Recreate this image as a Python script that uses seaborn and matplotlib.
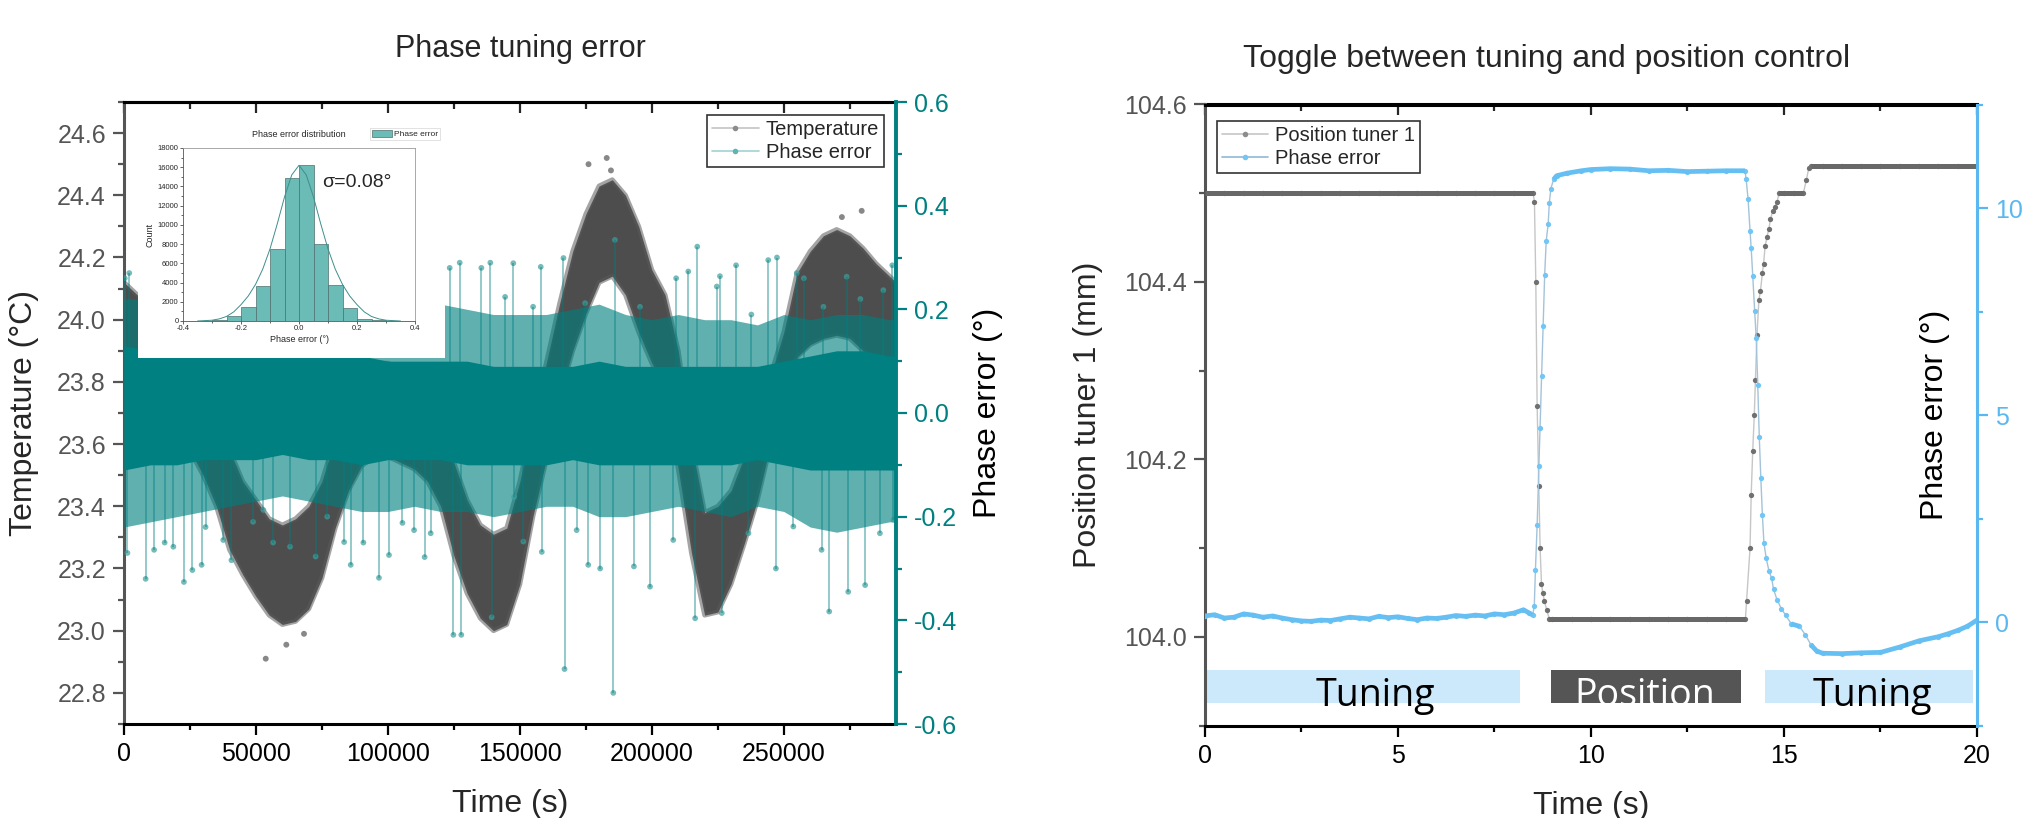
import numpy as np
import pandas as pd
import matplotlib
matplotlib.use("Agg")
import matplotlib.pyplot as plt
from matplotlib.lines import Line2D
from matplotlib.patches import Rectangle, Patch
from matplotlib.ticker import MultipleLocator, FormatStrFormatter
import seaborn as sns

# ---------------------------------------------------------------------------
# Left panel: long run, temperature band and phase error band (time in ks)
# ---------------------------------------------------------------------------
band_t_ks = [0, 5, 10, 15, 20, 25, 30, 35, 40, 45, 50, 55, 60, 65, 70, 75, 80,
             85, 90, 95, 100, 105, 110, 115, 120, 125, 130, 135, 140, 145, 150,
             155, 160, 165, 170, 175, 180, 185, 190, 195, 200, 205, 210, 215,
             220, 225, 230, 235, 240, 245, 250, 255, 260, 265, 270, 275, 280,
             285, 290, 292.5]
temp_lo = [23.85, 23.80, 23.76, 23.70, 23.64, 23.58, 23.50, 23.40, 23.26, 23.18,
           23.11, 23.05, 23.02, 23.03, 23.07, 23.17, 23.33, 23.45, 23.53, 23.56,
           23.56, 23.54, 23.52, 23.48, 23.40, 23.24, 23.12, 23.04, 23.00, 23.02,
           23.15, 23.37, 23.55, 23.75, 23.90, 24.02, 24.12, 24.14, 24.08, 23.96,
           23.86, 23.78, 23.52, 23.25, 23.05, 23.06, 23.15, 23.28, 23.42, 23.60,
           23.75, 23.88, 23.92, 23.94, 23.95, 23.94, 23.90, 23.87, 23.85, 23.85]
temp_hi = [24.12, 24.08, 24.04, 23.98, 23.92, 23.86, 23.80, 23.70, 23.58, 23.48,
           23.42, 23.36, 23.34, 23.36, 23.40, 23.48, 23.62, 23.74, 23.82, 23.86,
           23.86, 23.84, 23.80, 23.76, 23.68, 23.54, 23.42, 23.34, 23.31, 23.33,
           23.48, 23.68, 23.86, 24.05, 24.22, 24.34, 24.43, 24.45, 24.40, 24.30,
           24.16, 24.08, 23.90, 23.60, 23.38, 23.40, 23.45, 23.56, 23.66, 23.82,
           23.96, 24.15, 24.22, 24.27, 24.29, 24.27, 24.23, 24.18, 24.14, 24.12]

temp_out_t_ks = [53.7, 61.5, 68.2, 176.0, 182.9, 184.5, 272.0, 279.5]
temp_out_val = [22.91, 22.955, 22.99, 24.50, 24.52, 24.48, 24.33, 24.35]

pe_t_ks = [0, 10, 20, 30, 40, 50, 60, 70, 80, 90, 100, 110, 120, 130, 140, 150,
           160, 170, 180, 190, 200, 210, 220, 230, 240, 250, 260, 270, 280, 290,
           292.5]
pe_core_lo = [-0.11, -0.10, -0.10, -0.09, -0.09, -0.09, -0.08, -0.09, -0.09, -0.10,
              -0.09, -0.09, -0.09, -0.10, -0.10, -0.10, -0.10, -0.09, -0.10, -0.10,
              -0.10, -0.10, -0.10, -0.10, -0.09, -0.10, -0.11, -0.11, -0.11, -0.11,
              -0.11]
pe_core_hi = [0.13, 0.12, 0.12, 0.12, 0.11, 0.11, 0.11, 0.12, 0.11, 0.11,
              0.10, 0.10, 0.10, 0.10, 0.09, 0.09, 0.09, 0.09, 0.10, 0.09,
              0.09, 0.09, 0.09, 0.09, 0.09, 0.10, 0.11, 0.12, 0.12, 0.11,
              0.11]
pe_fuzz_lo = [-0.22, -0.21, -0.20, -0.19, -0.18, -0.17, -0.16, -0.17, -0.18, -0.19,
              -0.19, -0.18, -0.19, -0.19, -0.20, -0.19, -0.18, -0.18, -0.20, -0.20,
              -0.19, -0.18, -0.19, -0.20, -0.18, -0.19, -0.22, -0.23, -0.22, -0.21,
              -0.21]
pe_fuzz_hi = [0.22, 0.22, 0.21, 0.21, 0.20, 0.20, 0.20, 0.20, 0.19, 0.19,
              0.19, 0.20, 0.21, 0.20, 0.19, 0.19, 0.19, 0.20, 0.21, 0.19,
              0.18, 0.19, 0.18, 0.18, 0.17, 0.19, 0.18, 0.19, 0.19, 0.18,
              0.18]

spike_t_ks = [0.3, 1.3, 2.0, 8.2, 11.4, 15.4, 18.7, 22.7, 25.9, 29.4, 30.9, 37.6,
              40.7, 48.9, 52.8, 56.5, 62.9, 72.6, 77.0, 83.4, 85.9, 90.7, 96.6,
              100.4, 105.5, 109.9, 113.9, 116.2, 123.4, 124.8, 127.2, 127.8, 135.4,
              138.8, 139.3, 144.4, 147.5, 147.8, 151.3, 155.0, 157.9, 158.3, 166.5,
              166.9, 171.5, 174.7, 175.9, 180.4, 185.4, 186.0, 193.2, 195.5, 199.3,
              208.1, 209.2, 213.8, 216.4, 217.2, 224.6, 225.8, 226.5, 231.9, 236.6,
              237.7, 244.1, 247.0, 247.4, 253.6, 254.9, 257.6, 264.3, 265.0, 267.2,
              273.8, 274.4, 279.0, 280.8, 286.4, 287.7, 291.1, 291.5]
spike_val = [0.26, -0.27, 0.27, -0.32, -0.264, -0.25, -0.258, -0.326, -0.303,
             -0.293, -0.22, -0.245, -0.284, -0.21, -0.187, -0.25, -0.258, -0.277,
             -0.20, -0.249, -0.293, -0.25, -0.318, -0.274, -0.212, -0.226, -0.278,
             -0.232, 0.28, -0.428, 0.29, -0.428, 0.28, 0.29, -0.394, 0.224, 0.289,
             -0.162, -0.248, 0.205, 0.282, -0.268, 0.299, -0.494, -0.226, 0.212,
             -0.293, -0.30, -0.54, 0.334, -0.296, 0.205, -0.335, -0.245, 0.26,
             0.273, -0.396, 0.321, 0.244, 0.264, -0.386, 0.285, -0.232, 0.19,
             0.295, -0.30, 0.30, -0.219, 0.27, 0.26, -0.264, 0.205, -0.383, 0.263,
             -0.345, 0.22, -0.332, -0.232, 0.237, 0.285, -0.206]

# inset histogram of the phase error
hist_edges = [-0.30, -0.25, -0.20, -0.15, -0.10, -0.05, 0.00, 0.05, 0.10, 0.15,
              0.20, 0.25, 0.30]
hist_counts = [140, 520, 1420, 3670, 7540, 14910, 16230, 7960, 3700, 1350, 240, 100]
fit_x = [-0.35, -0.30, -0.275, -0.25, -0.225, -0.20, -0.175, -0.15, -0.125, -0.10,
         -0.075, -0.05, -0.025, 0.0, 0.025, 0.05, 0.075, 0.10, 0.125, 0.15, 0.175,
         0.20, 0.225, 0.25, 0.275, 0.30, 0.35]
fit_y = [0, 80, 220, 470, 950, 1700, 2600, 3800, 5400, 7500, 10100, 12900, 15200,
         16200, 15200, 12900, 10100, 7500, 5400, 3800, 2600, 1700, 950, 470, 220,
         80, 0]

# ---------------------------------------------------------------------------
# Right panel: toggle between tuning and position control (time in s)
# ---------------------------------------------------------------------------
pos_t = [0.0, 0.5, 1.0, 1.5, 2.0, 2.5, 3.0, 3.5, 4.0, 4.5, 5.0, 5.5, 6.0, 6.5,
         7.0, 7.5, 8.0, 8.5,
         8.535, 8.57, 8.605, 8.648, 8.682, 8.717, 8.75, 8.79, 8.855, 8.923,
         9.0, 9.5, 10.0, 10.5, 11.0, 11.5, 12.0, 12.5, 13.0, 13.5, 14.0,
         14.03, 14.12, 14.15, 14.19, 14.23, 14.26, 14.30, 14.35, 14.39, 14.44,
         14.47, 14.51, 14.56, 14.61, 14.65, 14.71, 14.76, 14.82, 14.87,
         15.0, 15.25, 15.5, 15.58, 15.64,
         15.7, 16.0, 16.5, 17.0, 17.5, 18.0, 18.5, 19.0, 19.5, 20.0]
pos_mm = [104.5, 104.5, 104.5, 104.5, 104.5, 104.5, 104.5, 104.5, 104.5, 104.5,
          104.5, 104.5, 104.5, 104.5, 104.5, 104.5, 104.5, 104.5,
          104.49, 104.40, 104.26, 104.17, 104.10, 104.06, 104.05, 104.041,
          104.03, 104.02,
          104.02, 104.02, 104.02, 104.02, 104.02, 104.02, 104.02, 104.02,
          104.02, 104.02, 104.02,
          104.04, 104.10, 104.16, 104.21, 104.25, 104.29, 104.34, 104.38, 104.39,
          104.41, 104.42, 104.44, 104.451, 104.46, 104.471, 104.48, 104.485,
          104.49, 104.50,
          104.5, 104.5, 104.5, 104.515, 104.528,
          104.531, 104.531, 104.531, 104.531, 104.531, 104.531, 104.531, 104.531,
          104.531, 104.531]

phase_t = [0.0, 0.25, 0.5, 0.75, 1.0, 1.25, 1.5, 1.75, 2.0, 2.25, 2.5, 2.75, 3.0,
           3.25, 3.5, 3.75, 4.0, 4.25, 4.5, 4.75, 5.0, 5.25, 5.5, 5.75, 6.0, 6.25,
           6.5, 6.75, 7.0, 7.25, 7.5, 7.75, 8.0, 8.25, 8.4, 8.49,
           8.53, 8.56, 8.605, 8.65, 8.68, 8.72, 8.76, 8.80, 8.84, 8.89, 8.92, 8.96,
           9.03, 9.11, 9.37, 9.75, 10.0, 10.5, 11.0, 11.5, 12.0, 12.5, 13.0, 13.5,
           13.99,
           14.02, 14.07, 14.12, 14.15, 14.19, 14.24, 14.28, 14.32, 14.36, 14.40,
           14.44, 14.48, 14.54, 14.61, 14.68, 14.73, 14.82, 14.93, 15.04, 15.19,
           15.40, 15.55, 15.7, 15.85, 16.0, 16.5, 17.0, 17.5, 18.0, 18.5, 19.0,
           19.25, 19.5, 19.75, 20.0]
phase_deg = [0.15, 0.18, 0.10, 0.12, 0.20, 0.17, 0.12, 0.15, 0.10, 0.06, 0.03,
             0.02, 0.05, 0.04, 0.08, 0.12, 0.10, 0.08, 0.14, 0.11, 0.13, 0.09,
             0.06, 0.10, 0.09, 0.12, 0.16, 0.14, 0.17, 0.15, 0.20, 0.18, 0.22,
             0.30, 0.22, 0.17,
             0.38, 1.25, 2.35, 3.78, 4.69, 5.94, 7.16, 8.39, 9.21, 9.61, 10.12,
             10.47, 10.69, 10.78, 10.84, 10.90, 10.93, 10.95, 10.94, 10.90, 10.91,
             10.88, 10.89, 10.90, 10.90,
             10.69, 10.21, 9.45, 9.03, 8.37, 7.52, 6.87, 5.73, 4.46, 3.47, 2.59,
             1.91, 1.54, 1.24, 1.06, 0.79, 0.54, 0.33, 0.17, -0.04, -0.10, -0.30,
             -0.55, -0.70, -0.75, -0.76, -0.74, -0.73, -0.60, -0.45, -0.35, -0.28,
             -0.20, -0.10, 0.05]

mode_names = ["Tuning", "Position", "Tuning"]
mode_start = [0.0, 8.97, 14.52]
mode_end = [8.17, 13.88, 19.9]
mode_text_x = [4.42, 11.4, 17.3]

# ---------------------------------------------------------------------------
# Style
# ---------------------------------------------------------------------------
sns.set_theme(style="ticks")
plt.rcParams["font.family"] = ["Liberation Sans", "DejaVu Sans"]
plt.rcParams["axes.unicode_minus"] = False

TEAL = "#008080"
TEMP_GRAY = "#474747"
AX_GRAY = "#555555"
LBLUE = "#5ab8f0"

W, H = 2024, 818
fig = plt.figure(figsize=(W / 100, H / 100), dpi=100)


def fx(px):
    return px / W


def fy(py):
    return 1 - py / H


def style_ticks(a, axis, major_len=8, minor_len=4.5):
    a.tick_params(axis=axis, which="major", direction="out", length=major_len,
                  width=1.6, labelsize=18, pad=5)
    a.tick_params(axis=axis, which="minor", direction="out", length=minor_len,
                  width=1.6)


def top_ticks(a, major, minor):
    sec = a.secondary_xaxis("top")
    sec.xaxis.set_major_locator(MultipleLocator(major))
    sec.xaxis.set_minor_locator(MultipleLocator(minor))
    sec.tick_params(which="major", direction="in", length=8, width=1.6,
                    labeltop=False)
    sec.tick_params(which="minor", direction="in", length=5, width=1.6)
    sec.spines["top"].set_linewidth(2.2)
    sec.spines["top"].set_color("black")
    return sec


# ---------------------------------------------------------------------------
# Left panel
# ---------------------------------------------------------------------------
ax = fig.add_axes([fx(124), fy(724), fx(896 - 124), (724 - 102) / H])
ax2 = ax.twinx()

band_t = np.array(band_t_ks) * 1000
ax.fill_between(band_t, temp_lo, temp_hi, color=TEMP_GRAY, lw=0, alpha=0.97)
ax.plot(band_t, temp_lo, color="#5a5a5a", lw=3.5, alpha=0.55)
ax.plot(band_t, temp_hi, color="#5a5a5a", lw=3.5, alpha=0.55)
sns.scatterplot(x=np.array(temp_out_t_ks) * 1000, y=temp_out_val, ax=ax,
                color="#6a6a6a", s=18, edgecolor="none", alpha=0.8, legend=False)

pe_t = np.array(pe_t_ks) * 1000
ax2.fill_between(pe_t, pe_fuzz_lo, pe_fuzz_hi, color=TEAL, lw=0, alpha=0.62)
ax2.fill_between(pe_t, pe_core_lo, pe_core_hi, color=TEAL, lw=0, alpha=1.0)
sp_t = np.array(spike_t_ks) * 1000
ax2.vlines(sp_t, 0, spike_val, color=TEAL, lw=1.3, alpha=0.45)
sns.scatterplot(x=sp_t, y=spike_val, ax=ax2, color="#3a9f9c", s=17,
                edgecolor="none", alpha=0.7, legend=False)

ax.set_xlim(0, 292500)
ax.set_ylim(22.7, 24.7)
ax2.set_ylim(-0.6, 0.6)

ax.xaxis.set_major_locator(MultipleLocator(50000))
ax.xaxis.set_minor_locator(MultipleLocator(25000))
ax.xaxis.set_major_formatter(FormatStrFormatter("%d"))
ax.yaxis.set_major_locator(MultipleLocator(0.2))
ax.yaxis.set_minor_locator(MultipleLocator(0.1))
ax.yaxis.set_major_formatter(FormatStrFormatter("%.1f"))
ax2.yaxis.set_major_locator(MultipleLocator(0.2))
ax2.yaxis.set_minor_locator(MultipleLocator(0.1))
ax2.yaxis.set_major_formatter(FormatStrFormatter("%.1f"))

style_ticks(ax, "x")
style_ticks(ax, "y")
style_ticks(ax2, "y")
ax.tick_params(axis="y", which="both", colors=AX_GRAY, labelcolor=AX_GRAY)
ax.tick_params(axis="x", which="both", colors="black", labelcolor="black")
ax2.tick_params(axis="y", which="both", colors=TEAL, labelcolor=TEAL)
top_ticks(ax, 50000, 25000)

for s in ("top", "bottom"):
    ax.spines[s].set_linewidth(2.2)
    ax.spines[s].set_color("black")
ax.spines["left"].set_linewidth(2.2)
ax.spines["left"].set_color(AX_GRAY)
ax.spines["right"].set_visible(False)
ax2.spines["left"].set_visible(False)
ax2.spines["top"].set_visible(False)
ax2.spines["bottom"].set_visible(False)
ax2.spines["right"].set_linewidth(2.8)
ax2.spines["right"].set_color(TEAL)

ax.set_xlabel("Time (s)", fontsize=23)
ax.xaxis.set_label_coords(0.5, -0.104)
ax.set_ylabel("Temperature (°C)", fontsize=23)
ax.yaxis.set_label_coords((39 - 124) / 772, 0.5)
ax2.set_ylabel("Phase error (°)", fontsize=23, color="black")
ax2.yaxis.set_label_coords((973 - 124) / 772, 0.5)

h_left = [
    Line2D([0], [0], color="#c4c4c4", lw=1.2, marker="o", ms=4,
           mfc="#8c8c8c", mec="none"),
    Line2D([0], [0], color="#9ed3d1", lw=1.2, marker="o", ms=4,
           mfc="#5fb3b0", mec="none"),
]
leg = ax2.legend(h_left, ["Temperature", "Phase error"], loc="upper right",
                 bbox_to_anchor=(0.9845, 0.979), fontsize=14.5, frameon=True,
                 fancybox=False, handlelength=2.3, handletextpad=0.35,
                 labelspacing=0.2, borderpad=0.25, borderaxespad=0)
leg.get_frame().set_edgecolor("#333333")
leg.get_frame().set_linewidth(1.2)
leg.get_frame().set_alpha(1)

fig.text(fx(520), fy(57), "Phase tuning error", ha="center", va="baseline",
         fontsize=22)

# white box behind the inset
fig.patches.append(Rectangle((fx(138), fy(358)), fx(445 - 138), (358 - 114) / H,
                             transform=fig.transFigure, facecolor="white",
                             edgecolor="none", zorder=1))

axi = fig.add_axes([fx(183), fy(321), fx(415 - 183), (321 - 148) / H], zorder=2)
edges = np.array(hist_edges)
hist_df = pd.DataFrame({"phase": (edges[:-1] + edges[1:]) / 2,
                        "count": hist_counts})
sns.histplot(data=hist_df, x="phase", weights="count", bins=hist_edges, ax=axi,
             color="#6bbbb7", edgecolor="#4f6f6e", linewidth=0.5, alpha=1)
axi.plot(fit_x, fit_y, color="#3d8f8b", lw=0.7)
axi.set_xlim(-0.4, 0.4)
axi.set_ylim(0, 18000)
axi.xaxis.set_major_locator(MultipleLocator(0.2))
axi.xaxis.set_minor_locator(MultipleLocator(0.1))
axi.yaxis.set_major_locator(MultipleLocator(2000))
axi.yaxis.set_minor_locator(MultipleLocator(1000))
axi.xaxis.set_major_formatter(FormatStrFormatter("%.1f"))
axi.tick_params(which="major", direction="out", length=2.2, width=0.5,
                labelsize=5.5, pad=1)
axi.tick_params(which="minor", direction="out", length=1.2, width=0.5)
for s in axi.spines.values():
    s.set_linewidth(0.6)
    s.set_color("#555555")
axi.spines["top"].set_color("#9a9a9a")
axi.spines["right"].set_color("#9a9a9a")
axi.set_xlabel("Phase error (°)", fontsize=6.5, labelpad=2)
axi.set_ylabel("Count", fontsize=6.5, labelpad=2)
axi.set_title("Phase error distribution", fontsize=6.5, pad=8)
axi.text(0.75, 0.80, "σ=0.08°", transform=axi.transAxes, fontsize=14,
         ha="center", va="center")
ileg = axi.legend([Patch(facecolor="#6bbbb7", edgecolor="#4f6f6e", lw=0.5)],
                  ["Phase error"], loc="upper right",
                  bbox_to_anchor=(1.108, 1.116), fontsize=6, fancybox=False,
                  handlelength=2.4, handleheight=0.9, handletextpad=0.3,
                  borderpad=0.2, borderaxespad=0)
ileg.get_frame().set_edgecolor("#cccccc")
ileg.get_frame().set_linewidth(0.5)

# ---------------------------------------------------------------------------
# Right panel
# ---------------------------------------------------------------------------
axr = fig.add_axes([fx(1205), fy(725.7), fx(1977 - 1205), (725.7 - 104.5) / H])
axr2 = axr.twinx()


def flat_mask(y, thr):
    y = np.asarray(y, dtype=float)
    d = np.abs(np.diff(y))
    prev = np.r_[np.inf, d]
    nxt = np.r_[d, np.inf]
    return np.minimum(prev, nxt) < thr


pos_mm_arr = np.asarray(pos_mm)
sns.lineplot(x=pos_t, y=pos_mm, ax=axr, color="#c6c6c6", lw=1.0, marker="o",
             markersize=3.8, markerfacecolor="#707070", markeredgewidth=0,
             estimator=None, sort=False, legend=False)
axr.plot(pos_t, np.where(flat_mask(pos_mm, 0.0025), pos_mm_arr, np.nan),
         color="#686868", lw=3.6, solid_capstyle="butt", zorder=3)

phase_arr = np.asarray(phase_deg)
sns.lineplot(x=phase_t, y=phase_deg, ax=axr2, color="#a2c3da", lw=1.0,
             marker="o", markersize=3.8, markerfacecolor="#72c6f6",
             markeredgewidth=0, estimator=None, sort=False, legend=False)
axr2.plot(phase_t, np.where(flat_mask(phase_deg, 0.155), phase_arr, np.nan),
          color="#66bff3", lw=3.4, solid_capstyle="butt", zorder=3)

# mode bars
bar_colors = ["#cbe9fb", "#555555", "#cbe9fb"]
text_colors = ["black", "white", "black"]
widths = np.array(mode_end) - np.array(mode_start)
bars = axr.barh(y=103.9445, width=widths, left=mode_start, height=0.037,
                color=bar_colors, edgecolor="none", zorder=1)
for b, name, tx, tc in zip(bars.patches, mode_names, mode_text_x, text_colors):
    t = axr.text(tx, 103.922, name, ha="center", va="baseline", fontsize=27,
                 color=tc, family=["Open Sans", "DejaVu Sans"], zorder=2)
    if tc == "white":
        t.set_clip_path(b)

axr.set_xlim(0, 20)
axr.set_ylim(103.9, 104.6)
axr2.set_ylim(-2.5, 12.5)

axr.xaxis.set_major_locator(MultipleLocator(5))
axr.xaxis.set_minor_locator(MultipleLocator(2.5))
axr.yaxis.set_major_locator(MultipleLocator(0.2))
axr.yaxis.set_minor_locator(MultipleLocator(0.1))
axr.yaxis.set_major_formatter(FormatStrFormatter("%.1f"))
axr2.yaxis.set_major_locator(MultipleLocator(5))
axr2.yaxis.set_minor_locator(MultipleLocator(2.5))

style_ticks(axr, "x")
style_ticks(axr, "y")
style_ticks(axr2, "y")
axr.tick_params(axis="y", which="both", colors=AX_GRAY, labelcolor=AX_GRAY)
axr.tick_params(axis="x", which="both", colors="black", labelcolor="black")
axr2.tick_params(axis="y", which="both", colors=LBLUE, labelcolor=LBLUE)
top_ticks(axr, 5, 2.5)

for s in ("top", "bottom"):
    axr.spines[s].set_linewidth(2.2)
    axr.spines[s].set_color("black")
axr.spines["left"].set_linewidth(2.2)
axr.spines["left"].set_color(AX_GRAY)
axr.spines["right"].set_visible(False)
for s in ("left", "top", "bottom"):
    axr2.spines[s].set_visible(False)
axr2.spines["right"].set_linewidth(2.2)
axr2.spines["right"].set_color(LBLUE)

axr.set_xlabel("Time (s)", fontsize=23)
axr.xaxis.set_label_coords(0.5, -0.105)
axr.set_ylabel("Position tuner 1 (mm)", fontsize=23)
axr.yaxis.set_label_coords((1103 - 1205) / 772, 0.5)
axr2.set_ylabel("Phase error (°)", fontsize=23, color="black")
axr2.yaxis.set_label_coords((1920 - 1205) / 772, 0.5)

h_right = [
    Line2D([0], [0], color="#c6c6c6", lw=1.2, marker="o", ms=4,
           mfc="#8c8c8c", mec="none"),
    Line2D([0], [0], color="#8fb9d6", lw=1.2, marker="o", ms=4,
           mfc="#72c6f6", mec="none"),
]
legr = axr2.legend(h_right, ["Position tuner 1", "Phase error"], loc="upper left",
                   bbox_to_anchor=(0.0155, 0.974), fontsize=14.5, frameon=True,
                   fancybox=False, handlelength=2.3, handletextpad=0.35,
                   labelspacing=0.2, borderpad=0.25, borderaxespad=0)
legr.get_frame().set_edgecolor("#333333")
legr.get_frame().set_linewidth(1.2)
legr.get_frame().set_alpha(1)

fig.text(fx(1547), fy(67), "Toggle between tuning and position control",
         ha="center", va="baseline", fontsize=23)

fig.savefig("out.png", dpi=100)
